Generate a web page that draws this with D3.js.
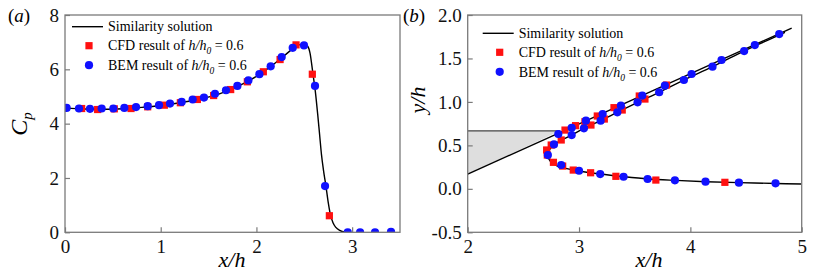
<!DOCTYPE html>
<html><head><meta charset="utf-8">
<script src="https://cdn.jsdelivr.net/npm/d3@7"></script>
</head>
<body style="margin:0;background:#fff"><svg id="c" width="817" height="273"></svg>
<script>
// ---------- Panel (a) data ----------
const aSimX = [0,0.2,0.4,0.6,0.8,1.0,1.2,1.4,1.6,1.8,2.0,2.1,2.2,2.3,2.38,2.44,2.5,2.535,2.56,2.59,2.615,2.64,2.66,2.68,2.70,2.727,2.75,2.77,2.80,2.83,2.87,2.92,2.97];
const aSimY = [4.57,4.54,4.53,4.55,4.60,4.67,4.77,4.90,5.08,5.36,5.74,5.98,6.24,6.53,6.76,6.90,6.92,6.85,6.60,5.85,5.20,4.35,3.60,2.85,2.30,1.68,1.10,0.70,0.35,0.18,0.07,0.01,0];
const aCfdX = [0.174,0.341,0.515,0.69,0.864,1.038,1.205,1.383,1.553,1.731,1.905,2.072,2.247,2.414,2.584,2.762];
const aCfdY = [4.557,4.52,4.545,4.557,4.62,4.68,4.77,4.89,5.035,5.255,5.54,5.91,6.36,6.90,5.82,0.61];
const aBemX = [0.017,0.146,0.261,0.383,0.505,0.62,0.742,0.864,0.982,1.097,1.219,1.334,1.452,1.567,1.682,1.801,1.916,2.031,2.149,2.264,2.379,2.497,2.612,2.717,2.954,3.083,3.239,3.406];
const aBemY = [4.58,4.557,4.545,4.557,4.557,4.58,4.61,4.645,4.68,4.74,4.80,4.89,4.96,5.10,5.23,5.39,5.59,5.82,6.11,6.45,6.79,6.88,5.39,1.70,0,0,0,0.02];
const aXTicks = [0,1,2,3];
const aYTicks = [0,2,4,6,8];

// ---------- Panel (b) data ----------
const bBodyX = [2.0,4.91];
const bBodyY = [0.17,1.85];
const bWedgeX = [2.0,2.83,2.0];
const bWedgeY = [0.668,0.668,0.17];
const bSimX = [4.85,4.6,4.48,4.2,3.94,3.72,3.526,3.344,3.194,3.044,2.934,2.84,2.775,2.74,2.722,2.73,2.76,2.81,2.88,3.0,3.19,3.40,3.62,3.87,4.14,4.44,4.77,5.0];
const bSimY = [1.80,1.655,1.585,1.405,1.252,1.111,0.995,0.880,0.784,0.696,0.619,0.56,0.511,0.46,0.40,0.34,0.295,0.26,0.235,0.205,0.170,0.140,0.114,0.097,0.082,0.071,0.062,0.055];
const bCfdX = [2.874,2.969,3.053,3.164,3.314,3.541,3.786,2.75,2.84,3.107,3.227,3.388,3.592,2.709,2.715,2.77,2.853,2.948,3.104,3.331,3.69,4.31];
const bCfdY = [0.676,0.727,0.772,0.838,0.934,1.068,1.194,0.504,0.562,0.734,0.803,0.907,1.033,0.447,0.389,0.305,0.262,0.216,0.185,0.144,0.101,0.075];
const bBemX = [4.798,4.579,4.483,4.28,4.199,4.011,3.942,3.771,3.72,3.568,3.526,3.376,3.344,3.212,3.194,3.062,3.044,2.934,2.934,2.814,2.775,2.72,2.84,3.0,3.19,3.40,3.616,3.861,4.136,4.436,4.765];
const bBemY = [1.781,1.654,1.585,1.482,1.405,1.321,1.252,1.187,1.111,1.073,0.995,0.957,0.880,0.861,0.784,0.784,0.696,0.703,0.619,0.631,0.511,0.389,0.274,0.208,0.170,0.139,0.113,0.098,0.082,0.071,0.063];
const bXTicks = [2,3,4,5];
const bYTicks = [-0.5,0,0.5,1.0,1.5,2.0];
const bYLabels = ["-0.5","0.0","0.5","1.0","1.5","2.0"];

const legendLabels = ["Similarity solution","CFD result of ","BEM result of "];

const SERIF = "Liberation Serif";
const svg = d3.select("#c").style("font-family",SERIF);
const FRAME = "#7a7a7a";

function txt(sel){ return sel.style("font-family",SERIF); }

function panel(o){
  const g = svg.append("g");
  const x = d3.scaleLinear().domain(o.xd).range([o.l,o.r]);
  const y = d3.scaleLinear().domain(o.yd).range([o.b,o.t]);
  const cid = "clip"+o.id;
  svg.append("defs").append("clipPath").attr("id",cid).append("rect")
    .attr("x",o.l).attr("y",o.t).attr("width",o.r-o.l).attr("height",o.b-o.t);
  const plot = g.append("g").attr("clip-path",`url(#${cid})`);
  if(o.draw) o.draw(plot,x,y);
  g.append("rect").attr("x",o.l).attr("y",o.t).attr("width",o.r-o.l).attr("height",o.b-o.t)
    .attr("fill","none").attr("stroke",FRAME).attr("stroke-width",1.3);
  const ax = g.append("g").attr("transform",`translate(0,${o.b})`)
    .call(d3.axisBottom(x).tickValues(o.xt).tickSize(-5).tickPadding(7).tickFormat(d3.format("d")));
  const ay = g.append("g").attr("transform",`translate(${o.l},0)`)
    .call(d3.axisLeft(y).tickValues(o.yt).tickSize(-5).tickPadding(6).tickFormat((d,i)=>o.ytl?o.ytl[i]:d));
  [ax,ay].forEach(a=>{
    a.attr("font-family",SERIF).style("font-family",SERIF);
    a.select(".domain").remove();
    a.selectAll(".tick line").attr("stroke",FRAME).attr("stroke-width",1.2);
    a.selectAll(".tick text").style("font-size","19px").style("font-family",SERIF).attr("fill","#111");
  });
  return {g,x,y};
}

function markers(plot,x,y,cx,cy,bx,by){
  plot.selectAll(null).data(cx.map((d,i)=>[d,cy[i]])).enter().append("rect")
    .attr("x",d=>x(d[0])-3.6).attr("y",d=>y(d[1])-3.6).attr("width",7.2).attr("height",7.2)
    .attr("fill","#ff1010");
  plot.selectAll(null).data(bx.map((d,i)=>[d,by[i]])).enter().append("circle")
    .attr("cx",d=>x(d[0])).attr("cy",d=>y(d[1])).attr("r",4.1).attr("fill","#1010ff");
}

function legend(g,lx,ly){
  g.append("line").attr("x1",lx).attr("x2",lx+31).attr("y1",ly).attr("y2",ly)
    .attr("stroke","#000").attr("stroke-width",1.4);
  g.append("rect").attr("x",lx+17-3.6).attr("y",ly+19-3.6).attr("width",7.2).attr("height",7.2).attr("fill","#ff1010");
  g.append("circle").attr("cx",lx+17).attr("cy",ly+38.5).attr("r",4.1).attr("fill","#1010ff");
  const tx = lx+36;
  txt(g.append("text")).attr("x",tx).attr("y",ly+4.7).style("font-size","14px").text(legendLabels[0]);
  [1,2].forEach(k=>{
    const t = txt(g.append("text")).attr("x",tx).attr("y",ly+19*k+(k==2?0.5:0)+4.7).style("font-size","14px");
    t.append("tspan").text(legendLabels[k]);
    t.append("tspan").attr("font-style","italic").text("h/h");
    t.append("tspan").attr("font-style","italic").attr("font-size",9.5).attr("dy",4).text("0");
    t.append("tspan").attr("dy",-4).text(" = 0.6");
  });
}

// Panel (a)
const A = panel({id:"a",l:65,r:400,t:15,b:232.3,xd:[0,3.5],yd:[0,8],xt:aXTicks,yt:aYTicks,
  draw:(p,x,y)=>{
    p.append("path").datum(aSimX.map((d,i)=>[d,aSimY[i]]))
      .attr("d",d3.line().x(d=>x(d[0])).y(d=>y(d[1])).curve(d3.curveMonotoneX))
      .attr("fill","none").attr("stroke","#000").attr("stroke-width",1.4);
    markers(p,x,y,aCfdX,aCfdY,aBemX,aBemY);
  }});
legend(A.g,72,26.7);
txt(A.g.append("text")).attr("x",232).attr("y",267).attr("text-anchor","middle").style("font-size","22px")
  .attr("font-style","italic").text("x/h");
const cp = txt(A.g.append("text")).attr("transform","translate(27,124) rotate(-90)").attr("text-anchor","middle")
  .style("font-size","24px").attr("font-style","italic");
cp.append("tspan").text("C");
cp.append("tspan").attr("font-size",15).attr("dy",5).text("p");
const la = txt(A.g.append("text")).attr("x",8).attr("y",22).style("font-size","19px");
la.append("tspan").text("(");
la.append("tspan").attr("font-style","italic").text("a");
la.append("tspan").text(")");

// Panel (b)
const B = panel({id:"b",l:467.7,r:801.7,t:15,b:232.3,xd:[2,5],yd:[-0.5,2.0],xt:bXTicks,yt:bYTicks,ytl:bYLabels,
  draw:(p,x,y)=>{
    const pts = bWedgeX.map((d,i)=>[x(d),y(bWedgeY[i])]);
    p.append("polygon").attr("points",pts.map(d=>d.join(",")).join(" "))
      .attr("fill","#dedede").attr("stroke","none");
    p.append("line").attr("x1",x(bWedgeX[0])).attr("x2",x(bWedgeX[1]))
      .attr("y1",y(bWedgeY[0])).attr("y2",y(bWedgeY[1])).attr("stroke","#444").attr("stroke-width",1.3);
    p.append("line").attr("x1",x(bBodyX[0])).attr("x2",x(bBodyX[1]))
      .attr("y1",y(bBodyY[0])).attr("y2",y(bBodyY[1])).attr("stroke","#000").attr("stroke-width",1.4);
    p.append("path").datum(bSimX.map((d,i)=>[d,bSimY[i]]))
      .attr("d",d3.line().x(d=>x(d[0])).y(d=>y(d[1])).curve(d3.curveCatmullRom))
      .attr("fill","none").attr("stroke","#000").attr("stroke-width",1.4);
    markers(p,x,y,bCfdX,bCfdY,bBemX,bBemY);
  }});
legend(B.g,482.7,33.3);
txt(B.g.append("text")).attr("x",649).attr("y",267).attr("text-anchor","middle").style("font-size","22px")
  .attr("font-style","italic").text("x/h");
txt(B.g.append("text")).attr("transform","translate(425,100) rotate(-90)").attr("text-anchor","middle")
  .style("font-size","22px").attr("font-style","italic").text("y/h");
const lb = txt(B.g.append("text")).attr("x",403).attr("y",22).style("font-size","19px");
lb.append("tspan").text("(");
lb.append("tspan").attr("font-style","italic").text("b");
lb.append("tspan").text(")");
</script></body></html>
